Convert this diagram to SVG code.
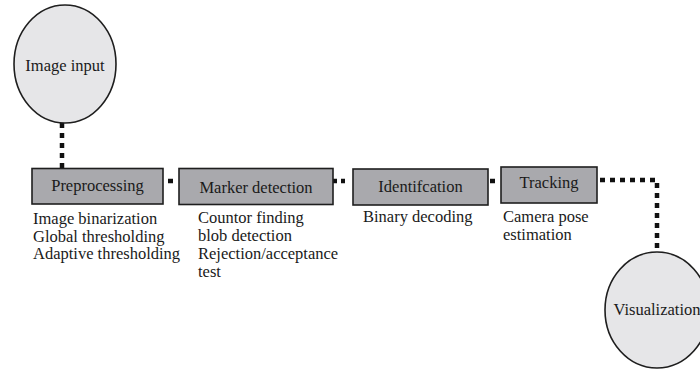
<svg xmlns="http://www.w3.org/2000/svg" width="700" height="369" viewBox="0 0 700 369">
<style>
text{font-family:'Liberation Serif','Times New Roman',Times,'DejaVu Serif',serif;font-size:16.5px;fill:#1a1a1a}
.box{fill:#a9a9ad;stroke:#1e1e1e;stroke-width:1.6}
.ell{fill:#e6e6e8;stroke:#1e1e1e;stroke-width:1.6}
.c{text-anchor:middle}
.dot{stroke:#111;stroke-width:4.5;fill:none;stroke-dasharray:5 5}
</style>
<rect width="700" height="369" fill="#fff"/>
<g id="connectors">
<line class="dot" x1="62" y1="123" x2="62" y2="168"/>
<line class="dot" x1="168" y1="181" x2="173" y2="181"/>
<line class="dot" x1="333" y1="181" x2="347" y2="181" style="stroke-dasharray:4 4"/>
<line class="dot" x1="490" y1="181" x2="496" y2="181"/>
<polyline class="dot" points="600,180 657,180 657,250"/>
</g>
<g id="image-input">
<ellipse class="ell" cx="65" cy="64" rx="51" ry="59"/>
<text class="c" x="65" y="71" font-family="Liberation Serif, serif">Image input</text>
</g>
<g id="preprocessing">
<rect class="box" x="32" y="168.5" width="131" height="35.5"/>
<text class="c" x="97.5" y="191">Preprocessing</text>
<text x="33" y="224">Image binarization</text>
<text x="33" y="241.5">Global thresholding</text>
<text x="33" y="259">Adaptive thresholding</text>
</g>
<g id="marker-detection">
<rect class="box" x="179" y="168.5" width="154" height="36"/>
<text class="c" x="256" y="192.5">Marker detection</text>
<text x="198" y="223">Countor finding</text>
<text x="198" y="241">blob detection</text>
<text x="198" y="259">Rejection/acceptance</text>
<text x="198" y="277">test</text>
</g>
<g id="identification">
<rect class="box" x="353" y="169" width="135" height="36"/>
<text class="c" x="420.5" y="192">Identifcation</text>
<text x="363" y="222">Binary decoding</text>
</g>
<g id="tracking">
<rect class="box" x="501" y="167" width="96" height="36"/>
<text class="c" x="549" y="188">Tracking</text>
<text x="503" y="222">Camera pose</text>
<text x="503" y="240">estimation</text>
</g>
<g id="visualization">
<ellipse class="ell" cx="657" cy="310" rx="52" ry="58"/>
<text class="c" x="657" y="315">Visualization</text>
</g>
</svg>
